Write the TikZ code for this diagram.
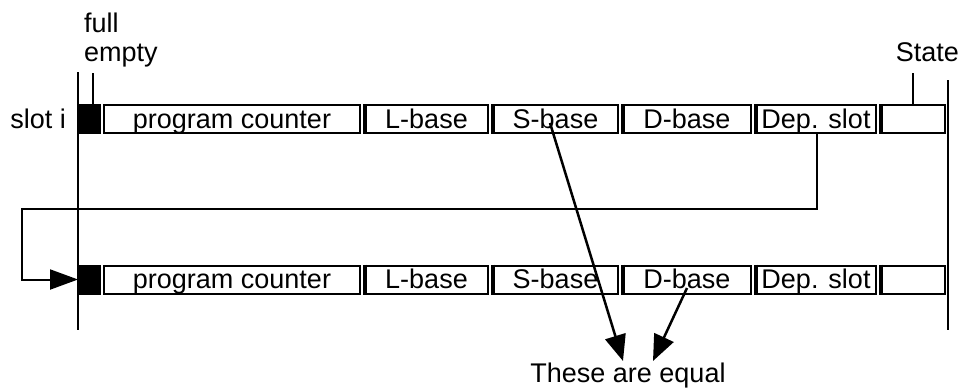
\documentclass[tikz,border=0pt]{standalone}
\usepackage{fontspec}
\setmainfont{Liberation Sans}
\usetikzlibrary{arrows.meta}
\begin{document}
\begin{tikzpicture}[x=1pt,y=-1pt,
  every node/.style={font=\fontsize{27}{31}\selectfont, inner sep=0pt},
  field/.style={draw, line width=2pt, text height=23pt, text depth=5pt},
  flag/.style={field, fill=black},
  edge/.style={line width=4pt},
  wire/.style={line width=2pt},
  pointer/.style={line width=2.5pt, -{Triangle[length=26pt,width=21pt]}},
  lbl/.style={anchor=base west}]
\useasboundingbox (0,0) rectangle (961,391);

% time axes
\coordinate (axL0) at (78,72);  \coordinate (axL1) at (78,330);
\coordinate (axR0) at (948,80); \coordinate (axR1) at (948,330);
\draw[wire] (axL0) -- (axL1);
\draw[wire] (axR0) -- (axR1);

% two copies of the slot record
\foreach \r/\y in {1/119, 2/279.5}{
  \node[flag, minimum width=21pt] (blk\r) at (89.5,\y) {};
  \node[field, minimum width=256pt] (pc\r)  at (232,\y)   {program counter};
  \node[field, minimum width=123pt] (lb\r)  at (426.5,\y) {L-base};
  \node[field, minimum width=125pt] (sb\r)  at (555.5,\y) {S-base};
  \node[field, minimum width=128pt] (db\r)  at (687,\y)   {D-base};
  \node[field, minimum width=120pt] (dep\r) at (816,\y)   {Dep. slot};
  \node[field, minimum width=64pt]  (st\r)  at (913,\y)   {};
  \foreach \n in {lb,sb,db,dep,st}
    \draw[edge] ([xshift=1pt]\n\r.north west) -- ([xshift=1pt]\n\r.south west);
}

% labels
\node[lbl] (full) at (84,32) {full};
\node[lbl] (empty) at (84,61) {empty};
\node[anchor=base east] (state) at (959,61) {State};
\node[anchor=base east] (slot) at (66,128) {slot i};
\node[anchor=base] (eq) at (628,382) {These are equal};

% flag and state markers
\coordinate (fe) at (93,73);
\draw[wire] (fe) -- (fe |- blk1.north);
\coordinate (sm) at (913,73);
\draw[wire] (sm) -- (st1.north);

% dependency link from one slot to the next
\coordinate (fbR) at (817,209);
\coordinate (fbL) at (22,209);
\draw[wire, -{Triangle[length=28pt,width=20pt]}] (dep1.south -| fbR) -- (fbR) -- (fbL) |- (blk2.west);

% equal bases
\coordinate (s0) at (550,123);
\coordinate (d0) at (687,288);
\coordinate (t1) at (623,361);
\coordinate (t2) at (653,361);
\draw[pointer] (s0) -- (t1);
\draw[pointer] (d0) -- (t2);
\end{tikzpicture}
\end{document}
